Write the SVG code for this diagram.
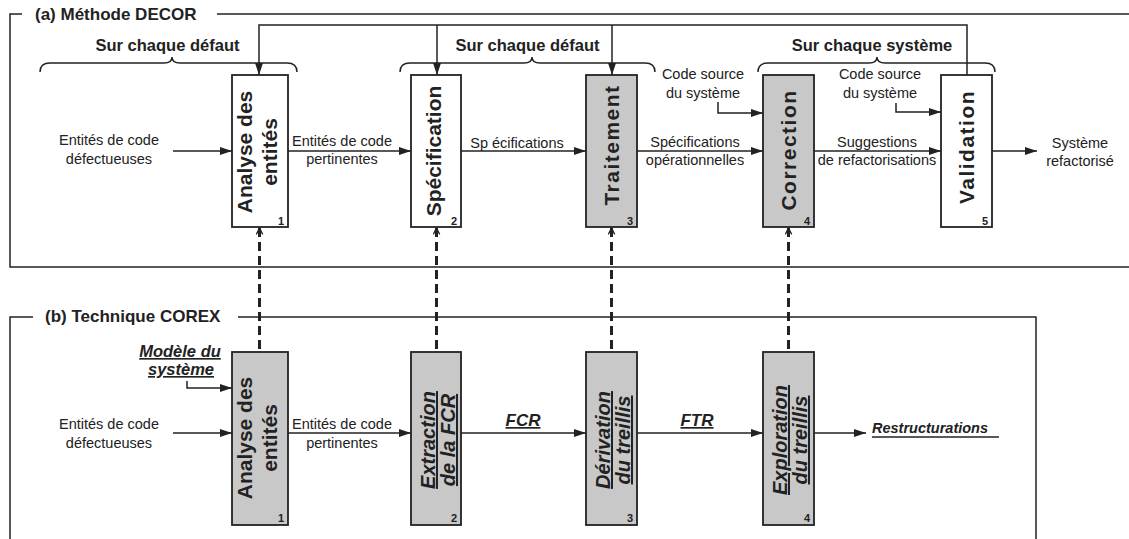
<svg xmlns="http://www.w3.org/2000/svg" width="1129" height="539" viewBox="0 0 1129 539">
<style>
text{font-family:"Liberation Sans",Arial,sans-serif;fill:#222}
.t{font-size:14.5px}
.ttl{font-size:17px;font-weight:bold}
.br{font-size:16.5px;font-weight:bold}
.bx{font-size:21px;font-weight:bold}
.bi{font-size:20px;font-weight:bold;font-style:italic;text-decoration:underline}
.num{font-size:11px;font-weight:bold}
.ls{letter-spacing:1.5px}
.w{fill:#fff;stroke:#222;stroke-width:1.8}
.g{fill:#c8c8c8;stroke:#222;stroke-width:1.8}
.ln{fill:none;stroke:#222;stroke-width:1.5}
.ar{fill:none;stroke:#222;stroke-width:1.5;marker-end:url(#ah)}
.ds{fill:none;stroke:#222;stroke-width:3;stroke-dasharray:9 5;marker-start:url(#oh)}
.ul{font-weight:bold;font-style:italic;text-decoration:underline}
</style>
<defs>
<marker id="ah" viewBox="0 0 12 8" refX="12" refY="4" markerWidth="12" markerHeight="8" markerUnits="userSpaceOnUse" orient="auto">
<path d="M0,0 L12,4 L0,8 z" fill="#222"/>
</marker>
<marker id="oh" viewBox="0 0 10 10" refX="9" refY="5" markerWidth="8" markerHeight="8" markerUnits="userSpaceOnUse" orient="auto-start-reverse">
<path d="M1,1 L9,5 L1,9" fill="none" stroke="#222" stroke-width="1.6" stroke-dasharray="none"/>
</marker>
</defs>

<g id="frame-a">
<path class="ln" d="M22 14 H10 V267 H1129"/>
<path class="ln" d="M217 14 H1129"/>
<text class="ttl" x="35" y="20">(a) Méthode DECOR</text>
</g>
<g id="frame-b">
<path class="ln" d="M33 317 H10 V539"/>
<path class="ln" d="M238 317 H1036 V539"/>
<text class="ttl" x="45" y="322">(b) Technique COREX</text>
</g>

<g id="braces">
<path class="ln" d="M40 72 Q40 63 50 63 H164 Q172 63 172 57 Q172 63 180 63 H287 Q297 63 297 72"/>
<text class="br" x="167.5" y="51" text-anchor="middle">Sur chaque défaut</text>
<path class="ln" d="M400 72 Q400 63 410 63 H524 Q532 63 532 57 Q532 63 540 63 H645 Q655 63 655 72"/>
<text class="br" x="527.5" y="51" text-anchor="middle">Sur chaque défaut</text>
<path class="ln" d="M758 72 Q758 63 768 63 H869 Q877 63 877 57 Q877 63 885 63 H985 Q995 63 995 72"/>
<text class="br" x="872" y="51" text-anchor="middle">Sur chaque système</text>
</g>

<g id="connectors">
<path class="ar" d="M967 75 V25 H259 V75"/>
<path class="ar" d="M437 25 V75"/>
<path class="ar" d="M612 25 V75"/>
<path class="ar" d="M173 151 H232"/>
<path class="ar" d="M288 151 H411"/>
<path class="ar" d="M461 151 H586"/>
<path class="ar" d="M637 151 H763"/>
<path class="ar" d="M814 151 H941"/>
<path class="ar" d="M992 151 H1037"/>
<path class="ar" d="M718 102 V113 H763"/>
<path class="ar" d="M896 103 V112 H941"/>
<path class="ar" d="M173 433 H232"/>
<path class="ar" d="M288 433 H411"/>
<path class="ar" d="M461 433 H586"/>
<path class="ar" d="M637 433 H763"/>
<path class="ar" d="M814 433 H866"/>
<path class="ar" d="M187 381 V388 H232"/>
<path class="ds" d="M259.5 228 V352"/>
<path class="ds" d="M436.5 228 V352"/>
<path class="ds" d="M611.5 228 V352"/>
<path class="ds" d="M788.5 228 V352"/>
</g>

<g id="labels">
<text class="t" x="109" y="145" text-anchor="middle">Entités de code</text>
<text class="t" x="109" y="164" text-anchor="middle">défectueuses</text>
<text class="t" x="342" y="146" text-anchor="middle">Entités de code</text>
<text class="t" x="342" y="164" text-anchor="middle">pertinentes</text>
<text class="t" x="517" y="148" text-anchor="middle">Sp écifications</text>
<text class="t" x="695" y="147" text-anchor="middle">Spécifications</text>
<text class="t" x="695" y="165" text-anchor="middle">opérationnelles</text>
<text class="t" x="877" y="147" text-anchor="middle">Suggestions</text>
<text class="t" x="877" y="165" text-anchor="middle">de refactorisations</text>
<text class="t" x="1080" y="148" text-anchor="middle">Système</text>
<text class="t" x="1080" y="166" text-anchor="middle">refactorisé</text>
<text class="t" x="703" y="79" text-anchor="middle">Code source</text>
<text class="t" x="703" y="98" text-anchor="middle">du système</text>
<text class="t" x="880" y="79" text-anchor="middle">Code source</text>
<text class="t" x="880" y="98" text-anchor="middle">du système</text>
<text class="t" x="109" y="429" text-anchor="middle">Entités de code</text>
<text class="t" x="109" y="448" text-anchor="middle">défectueuses</text>
<text class="t" x="342" y="429" text-anchor="middle">Entités de code</text>
<text class="t" x="342" y="448" text-anchor="middle">pertinentes</text>
<text class="ul" x="523" y="426" text-anchor="middle" font-size="17">FCR</text>
<text class="ul" x="697" y="426" text-anchor="middle" font-size="17">FTR</text>
<text class="ul" x="180" y="357" text-anchor="middle" font-size="16.5">Modèle du</text>
<text class="ul" x="181" y="375" text-anchor="middle" font-size="16.5">système</text>
<text x="872" y="433" font-size="14.5" font-weight="bold" font-style="italic">Restructurations</text>
<path class="ln" d="M872 437 H999"/>
</g>

<g id="n-a1">
<rect class="w" x="232" y="75" width="56" height="152"/>
<text class="bx" transform="translate(252,152) rotate(-90)" text-anchor="middle">Analyse des</text>
<text class="bx" transform="translate(277,152) rotate(-90)" text-anchor="middle">entités</text>
<text class="num" x="284" y="224.5" text-anchor="end">1</text>
</g>
<g id="n-a2">
<rect class="w" x="411" y="75" width="50" height="152"/>
<text class="bx" transform="translate(441,151) rotate(-90)" text-anchor="middle">Spécification</text>
<text class="num" x="457" y="224.5" text-anchor="end">2</text>
</g>
<g id="n-a3">
<rect class="g" x="586" y="75" width="51" height="152"/>
<text class="bx ls" transform="translate(619,145) rotate(-90)" text-anchor="middle">Traitement</text>
<text class="num" x="633" y="224.5" text-anchor="end">3</text>
</g>
<g id="n-a4">
<rect class="g" x="763" y="75" width="51" height="152"/>
<text class="bx ls" transform="translate(796,150) rotate(-90)" text-anchor="middle">Correction</text>
<text class="num" x="810" y="224.5" text-anchor="end">4</text>
</g>
<g id="n-a5">
<rect class="w" x="941" y="75" width="51" height="152"/>
<text class="bx ls" transform="translate(974,147) rotate(-90)" text-anchor="middle">Validation</text>
<text class="num" x="988" y="224.5" text-anchor="end">5</text>
</g>

<g id="n-b1">
<rect class="g" x="232" y="352" width="56" height="173"/>
<text class="bx" transform="translate(252,438) rotate(-90)" text-anchor="middle">Analyse des</text>
<text class="bx" transform="translate(277,438) rotate(-90)" text-anchor="middle">entités</text>
<text class="num" x="284" y="522" text-anchor="end">1</text>
</g>
<g id="n-b2">
<rect class="g" x="411" y="352" width="50" height="173"/>
<text class="bi" transform="translate(435,440) rotate(-90)" text-anchor="middle">Extraction</text>
<text class="bi" transform="translate(455,440) rotate(-90)" text-anchor="middle">de la FCR</text>
<text class="num" x="457" y="522" text-anchor="end">2</text>
</g>
<g id="n-b3">
<rect class="g" x="586" y="352" width="51" height="173"/>
<text class="bi" transform="translate(610,440) rotate(-90)" text-anchor="middle">Dérivation</text>
<text class="bi" transform="translate(630,440) rotate(-90)" text-anchor="middle">du treillis</text>
<text class="num" x="633" y="522" text-anchor="end">3</text>
</g>
<g id="n-b4">
<rect class="g" x="763" y="352" width="51" height="173"/>
<text class="bi" transform="translate(787,440) rotate(-90)" text-anchor="middle">Exploration</text>
<text class="bi" transform="translate(807,440) rotate(-90)" text-anchor="middle">du treillis</text>
<text class="num" x="810" y="522" text-anchor="end">4</text>
</g>
</svg>
